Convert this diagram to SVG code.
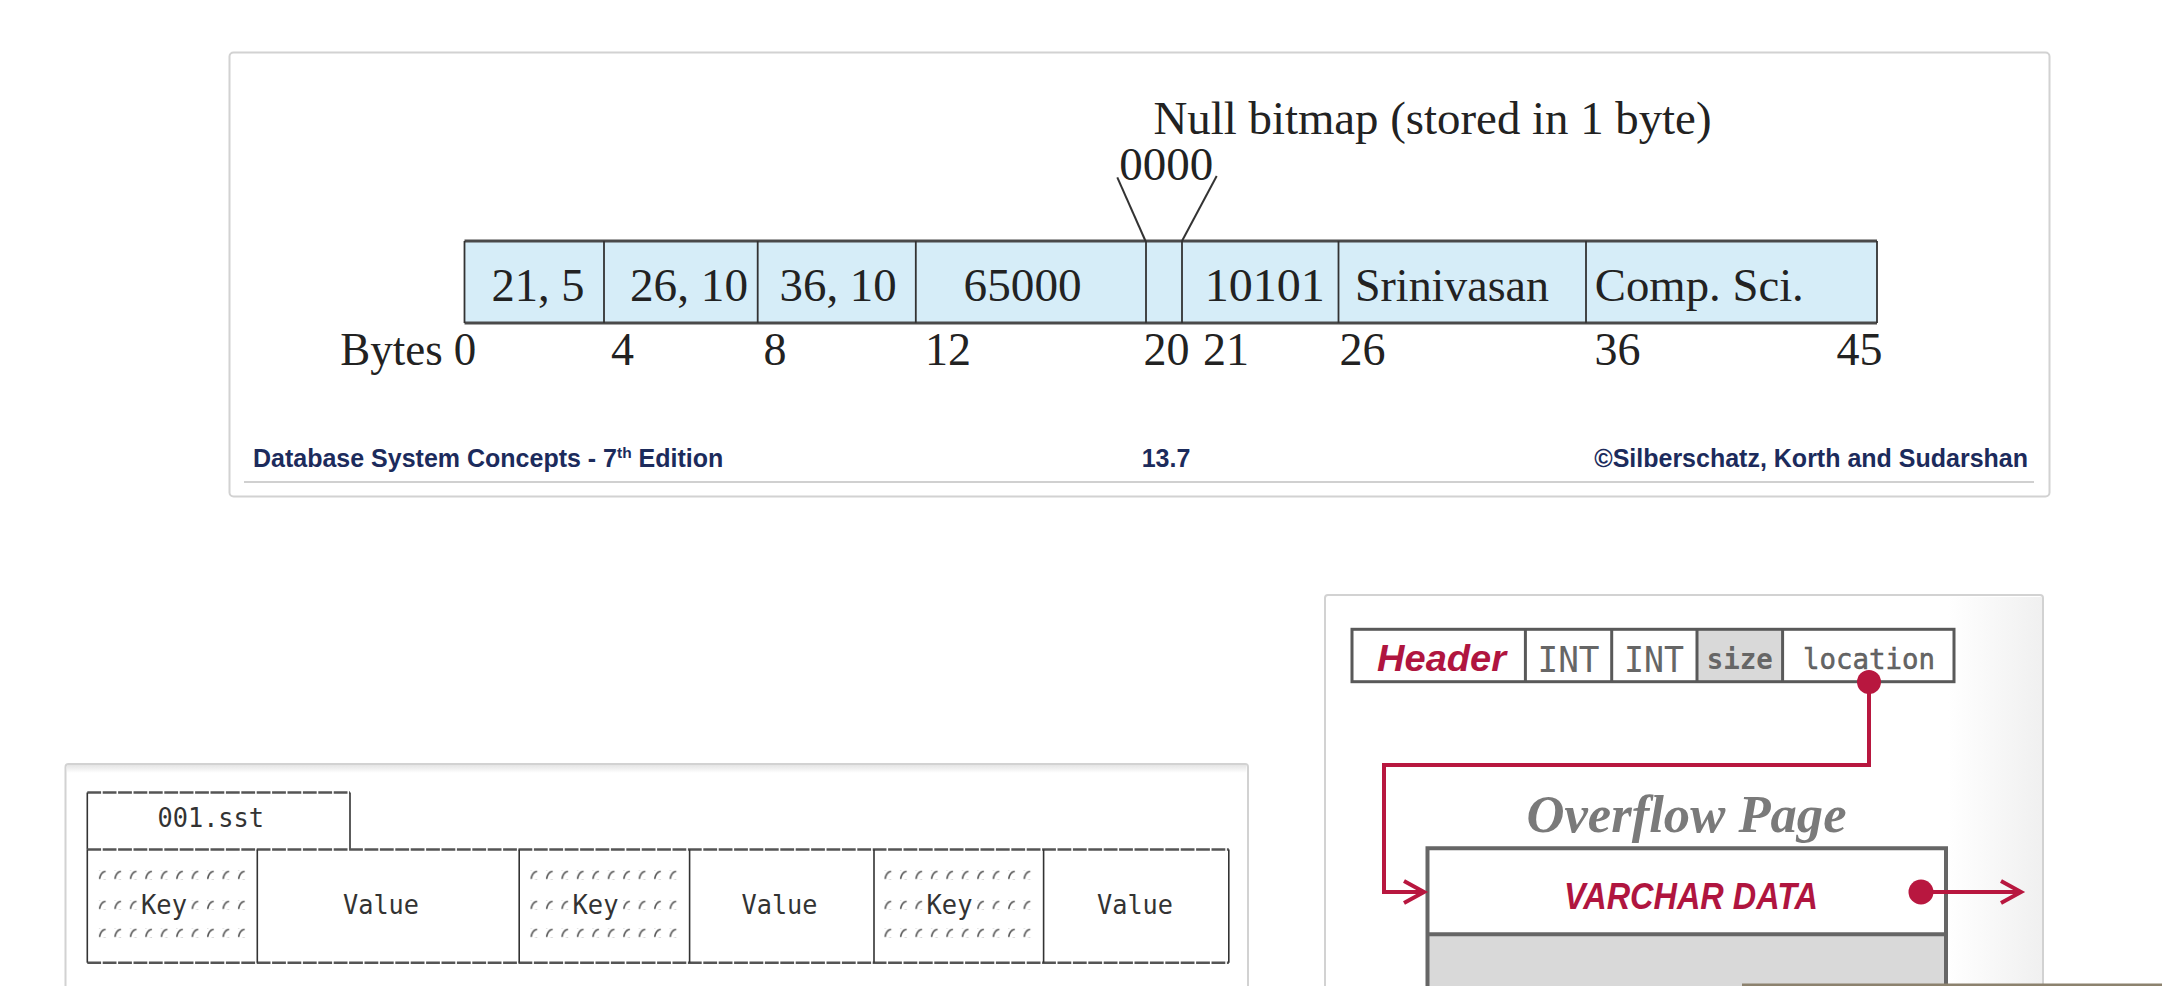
<svg xmlns="http://www.w3.org/2000/svg" width="2162" height="986" viewBox="0 0 2162 986">
<style>
.panel{fill:#ffffff;stroke:#d2d2d2;stroke-width:2}
.tm{font-family:"Liberation Serif","Times New Roman",serif;font-size:46px;fill:#222}
.foot{font-family:"Liberation Sans",Arial,sans-serif;font-weight:bold;font-size:25px;fill:#1c2b5c}
.cellbox{fill:#d6edf8}
.rhz{stroke:#4a4a4a;stroke-width:2.8;fill:none}
.rvt{stroke:#333;stroke-width:1.8;fill:none}
.mono{font-family:"DejaVu Sans Mono","Liberation Mono",monospace;font-size:27px;fill:#333}
.ahz{stroke:#555;stroke-width:2.6;stroke-dasharray:13.8 1.6;fill:none}
.avt{stroke:#333;stroke-width:1.6;fill:none}
.hb{stroke:#595959;stroke-width:3;fill:none}
.red{font-family:"Liberation Sans",Arial,sans-serif;font-weight:bold;font-style:italic;fill:#b0153f}
.gmono{font-family:"DejaVu Sans Mono","Liberation Mono",monospace;fill:#666}
.link{stroke:#b8173f;stroke-width:4;fill:none}
.dot{fill:#b8173f}
</style>
<defs>
<pattern id="hatch" patternUnits="userSpaceOnUse" x="0" y="0" width="15.45" height="9">
<path d="M3.6,8 Q4.6,2.2 9,0.8" stroke="#555" stroke-width="1.6" fill="none" stroke-linecap="round"/>
</pattern>
<g id="hrow-full"><rect x="0" y="0" width="154.5" height="9" fill="url(#hatch)"/></g>
<g id="hrow-key"><rect x="0" y="0" width="46.35" height="9" fill="url(#hatch)"/><rect x="92.7" y="0" width="61.8" height="9" fill="url(#hatch)"/></g>
<marker id="chev" markerUnits="userSpaceOnUse" markerWidth="28" markerHeight="30" refX="23" refY="13" orient="auto">
<path d="M3,2 L23,13 L3,24" stroke="#b8173f" stroke-width="4" fill="none" stroke-linejoin="miter"/>
</marker>
<linearGradient id="rgrad" x1="0" y1="0" x2="1" y2="0">
<stop offset="0" stop-color="#ffffff"/>
<stop offset="1" stop-color="#f0f0f0"/>
</linearGradient>
<linearGradient id="tshade" x1="0" y1="0" x2="0" y2="1">
<stop offset="0" stop-color="#e4e4e4"/>
<stop offset="1" stop-color="#ffffff"/>
</linearGradient>
</defs>

<!-- Top slide panel -->
<g id="slide-panel">
<rect class="panel" x="229.5" y="52.5" width="1820" height="444" rx="4"/>
<line x1="244" y1="482" x2="2034" y2="482" stroke="#d0d0d0" stroke-width="2"/>
<text class="foot" x="253" y="467">Database System Concepts - 7<tspan font-size="15.5" dy="-9">th</tspan><tspan dy="9"> Edition</tspan></text>
<text class="foot" x="1166" y="467" text-anchor="middle">13.7</text>
<text class="foot" x="2028" y="467" text-anchor="end">©Silberschatz, Korth and Sudarshan</text>
</g>

<g id="record">
<rect class="cellbox" x="464.5" y="241" width="1412.5" height="82"/>
<line class="rhz" x1="464.5" y1="241" x2="1877" y2="241"/>
<line class="rhz" x1="464.5" y1="323" x2="1877" y2="323"/>
<line class="rvt" x1="464.5" y1="241" x2="464.5" y2="323"/>
<line class="rvt" x1="1877" y1="241" x2="1877" y2="323"/>
</g>
<g id="cell-21-5"><line class="rvt" x1="604" y1="241" x2="604" y2="323"/><text class="tm" x="491.6" y="301" textLength="93" lengthAdjust="spacingAndGlyphs">21, 5</text></g>
<g id="cell-26-10"><line class="rvt" x1="757.7" y1="241" x2="757.7" y2="323"/><text class="tm" x="630" y="301" textLength="118" lengthAdjust="spacingAndGlyphs">26, 10</text></g>
<g id="cell-36-10"><line class="rvt" x1="915.8" y1="241" x2="915.8" y2="323"/><text class="tm" x="779.6" y="301" textLength="117" lengthAdjust="spacingAndGlyphs">36, 10</text></g>
<g id="cell-65000"><line class="rvt" x1="1146" y1="241" x2="1146" y2="323"/><text class="tm" x="963.6" y="301" textLength="118" lengthAdjust="spacingAndGlyphs">65000</text></g>
<g id="cell-null-bitmap"><line class="rvt" x1="1182" y1="241" x2="1182" y2="323"/></g>
<g id="cell-10101"><line class="rvt" x1="1338.5" y1="241" x2="1338.5" y2="323"/><text class="tm" x="1204.7" y="301" textLength="120" lengthAdjust="spacingAndGlyphs">10101</text></g>
<g id="cell-srinivasan"><line class="rvt" x1="1586" y1="241" x2="1586" y2="323"/><text class="tm" x="1355" y="301" textLength="194" lengthAdjust="spacingAndGlyphs">Srinivasan</text></g>
<g id="cell-compsci"><text class="tm" x="1594.8" y="301" textLength="209" lengthAdjust="spacingAndGlyphs">Comp. Sci.</text></g>

<g id="byte-labels">
<text class="tm" x="340.3" y="365" textLength="136" lengthAdjust="spacingAndGlyphs">Bytes 0</text>
<text class="tm" x="611" y="365">4</text>
<text class="tm" x="763.5" y="365">8</text>
<text class="tm" x="925" y="365">12</text>
<text class="tm" x="1143.5" y="365">20</text>
<text class="tm" x="1203" y="365">21</text>
<text class="tm" x="1339.5" y="365">26</text>
<text class="tm" x="1594.5" y="365">36</text>
<text class="tm" x="1836.5" y="365">45</text>
</g>

<g id="null-bitmap-label">
<text class="tm" x="1153.5" y="133.5" textLength="558" lengthAdjust="spacingAndGlyphs">Null bitmap (stored in 1 byte)</text>
<text class="tm" x="1119.3" y="180" textLength="94" lengthAdjust="spacingAndGlyphs">0000</text>
</g>

<!-- Bottom-left panel -->
<g id="sst-panel">
<rect class="panel" x="65.5" y="764" width="1182.5" height="240" rx="3"/>
<rect x="67" y="765" width="1179.5" height="8" fill="url(#tshade)"/>
</g>
<g id="sst-tab">
<line class="ahz" x1="87.3" y1="792.5" x2="350" y2="792.5"/>
<line class="avt" x1="87.3" y1="792.5" x2="87.3" y2="849.5"/>
<line class="avt" x1="350" y1="792.5" x2="350" y2="849.5"/>
<text class="mono" x="157.5" y="827" textLength="106.5" lengthAdjust="spacingAndGlyphs">001.sst</text>
</g>
<g id="sst-row">
<line class="ahz" x1="87.3" y1="849.5" x2="1228.8" y2="849.5"/>
<line class="ahz" x1="87.3" y1="962.7" x2="1228.8" y2="962.7"/>
<line class="avt" x1="87.3" y1="849.5" x2="87.3" y2="962.7"/>
<line class="avt" x1="1228.8" y1="849.5" x2="1228.8" y2="962.7"/>
</g>
<g id="key-1">
<line class="avt" x1="257.3" y1="849.5" x2="257.3" y2="962.7"/>
<use href="#hrow-full" transform="translate(96,870.5)"/>
<use href="#hrow-key" transform="translate(96,900.5)"/>
<use href="#hrow-full" transform="translate(96,928.5)"/>
<text class="mono" x="141" y="913.5" textLength="46" lengthAdjust="spacingAndGlyphs">Key</text>
</g>
<g id="value-1"><line class="avt" x1="519.2" y1="849.5" x2="519.2" y2="962.7"/><text class="mono" x="343" y="913.5" textLength="76" lengthAdjust="spacingAndGlyphs">Value</text></g>
<g id="key-2">
<line class="avt" x1="689.6" y1="849.5" x2="689.6" y2="962.7"/>
<use href="#hrow-full" transform="translate(527.6,870.5)"/>
<use href="#hrow-key" transform="translate(527.6,900.5)"/>
<use href="#hrow-full" transform="translate(527.6,928.5)"/>
<text class="mono" x="572.5" y="913.5" textLength="46" lengthAdjust="spacingAndGlyphs">Key</text>
</g>
<g id="value-2"><line class="avt" x1="874" y1="849.5" x2="874" y2="962.7"/><text class="mono" x="741.5" y="913.5" textLength="76" lengthAdjust="spacingAndGlyphs">Value</text></g>
<g id="key-3">
<line class="avt" x1="1043.6" y1="849.5" x2="1043.6" y2="962.7"/>
<use href="#hrow-full" transform="translate(881.6,870.5)"/>
<use href="#hrow-key" transform="translate(881.6,900.5)"/>
<use href="#hrow-full" transform="translate(881.6,928.5)"/>
<text class="mono" x="926.5" y="913.5" textLength="46" lengthAdjust="spacingAndGlyphs">Key</text>
</g>
<g id="value-3"><text class="mono" x="1097" y="913.5" textLength="76" lengthAdjust="spacingAndGlyphs">Value</text></g>

<!-- Bottom-right panel -->
<g id="overflow-panel">
<rect class="panel" x="1325" y="595" width="718" height="420" rx="3"/>
<rect x="1948" y="597" width="94" height="392" fill="url(#rgrad)"/>
</g>
<g id="tuple-header">
<rect x="1697" y="629.3" width="85.6" height="52.4" fill="#d9d9d9"/>
<rect class="hb" x="1352" y="629.3" width="602" height="52.4"/>
<line class="hb" x1="1525.4" y1="629.3" x2="1525.4" y2="681.7"/>
<line class="hb" x1="1611.7" y1="629.3" x2="1611.7" y2="681.7"/>
<line class="hb" x1="1697" y1="629.3" x2="1697" y2="681.7"/>
<line class="hb" x1="1782.6" y1="629.3" x2="1782.6" y2="681.7"/>
<text class="red" x="1377" y="670.5" font-size="37" textLength="129" lengthAdjust="spacingAndGlyphs">Header</text>
<text class="gmono" x="1537.5" y="671.5" font-size="35" textLength="62" lengthAdjust="spacingAndGlyphs">INT</text>
<text class="gmono" x="1624" y="671.5" font-size="35" textLength="60" lengthAdjust="spacingAndGlyphs">INT</text>
<text class="gmono" x="1706.8" y="669.3" font-size="28" font-weight="bold" fill="#555" textLength="66" lengthAdjust="spacingAndGlyphs">size</text>
<text class="gmono" x="1803" y="669.3" font-size="29" fill="#505050" stroke="#505050" stroke-width="0.5" textLength="132" lengthAdjust="spacingAndGlyphs">location</text>
</g>
<g id="overflow-page">
<text x="1526.5" y="831.7" font-family="'Liberation Serif','Times New Roman',serif" font-weight="bold" font-style="italic" font-size="52" fill="#7a7a7a" textLength="320" lengthAdjust="spacingAndGlyphs">Overflow Page</text>
<rect x="1427.5" y="934.3" width="518.5" height="70" fill="#d9d9d9"/>
<rect x="1427.5" y="848.3" width="518.5" height="86" fill="#ffffff"/>
<path d="M1427.5,1000 V848.3 H1946 V1000" stroke="#666" stroke-width="4" fill="none"/>
<line x1="1427.5" y1="934.3" x2="1946" y2="934.3" stroke="#666" stroke-width="4"/>
<text class="red" x="1564" y="908.5" font-size="36" textLength="254" lengthAdjust="spacingAndGlyphs">VARCHAR DATA</text>
</g>

<g id="connectors">
<path class="link" d="M1869,682 V765 H1384 V892 H1424" marker-end="url(#chev)"/>
<path class="link" d="M1921,892 H2021" marker-end="url(#chev)"/>
<circle class="dot" cx="1869" cy="682" r="12"/>
<circle class="dot" cx="1921" cy="892" r="12.5"/>
<line x1="1117.3" y1="177.3" x2="1145.5" y2="241" stroke="#333" stroke-width="2"/>
<line x1="1216.7" y1="176" x2="1182" y2="241" stroke="#333" stroke-width="2"/>
</g>

<rect x="1742" y="983.5" width="420" height="3" fill="#8c826e"/>
</svg>
